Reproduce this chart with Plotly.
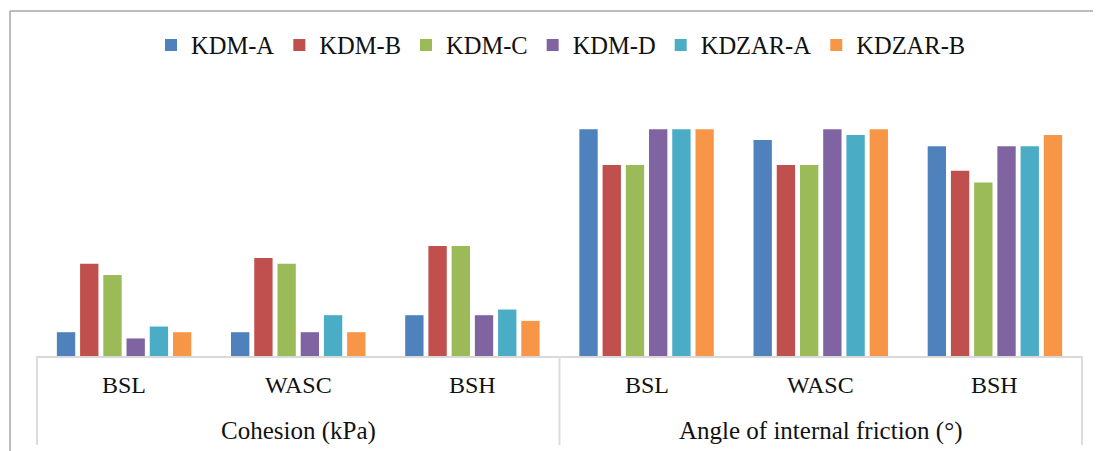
import plotly.graph_objects as go

# ---- data ----
groups = ["Cohesion (kPa)"] * 3 + ["Angle of internal friction (°)"] * 3
soils = ["BSL", "WASC", "BSH", "BSL", "WASC", "BSH"]

series_names = ["KDM-A", "KDM-B", "KDM-C", "KDM-D", "KDZAR-A", "KDZAR-B"]
kdm_a = [4.2, 4.2, 7.2, 40.0, 38.1, 37.0]
kdm_b = [16.3, 17.3, 19.4, 33.7, 33.7, 32.7]
kdm_c = [14.3, 16.3, 19.4, 33.7, 33.7, 30.6]
kdm_d = [3.1, 4.2, 7.2, 40.0, 40.0, 37.0]
kdzar_a = [5.2, 7.2, 8.2, 40.0, 39.0, 37.0]
kdzar_b = [4.2, 4.2, 6.2, 40.0, 40.0, 39.0]
series_values = [kdm_a, kdm_b, kdm_c, kdm_d, kdzar_a, kdzar_b]
colors = ["#4F81BD", "#C0504D", "#9BBB59", "#8064A2", "#4BACC6", "#F79646"]

FONT = "Liberation Serif"
TXT = "#111111"
GRID = "#d9d9d9"

fig = go.Figure()
for name, vals, col in zip(series_names, series_values, colors):
    fig.add_trace(go.Bar(
        name=name,
        x=[groups, soils],
        y=vals,
        marker=dict(color=col, line=dict(width=0)),
    ))

# page offset of the figure inside the browser body
OFF = 8
W, H = 1093, 443
L, R, T, B = 29, 19, 93, 95
pw, ph = W - L - R, H - T - B


def px(x):  # screen x -> paper
    return (x - OFF - L) / pw


def py(y):  # screen y -> paper
    return (H - B - (y - OFF)) / ph


n = len(soils)
annotations = []
# inner category labels
for i, s in enumerate(soils):
    annotations.append(dict(
        xref="paper", yref="paper", x=(i + 0.5) / n, y=py(385),
        text=s, showarrow=False, xanchor="center", yanchor="middle",
        font=dict(family=FONT, size=24, color=TXT)))
# outer group labels and divider positions
outer = []
for i, g in enumerate(groups):
    if not outer or outer[-1][0] != g:
        outer.append([g, i, i])
    else:
        outer[-1][2] = i
shapes = []
for g, i0, i1 in outer:
    annotations.append(dict(
        xref="paper", yref="paper", x=(i0 + i1 + 1) / 2 / n, y=py(431),
        text=g, showarrow=False, xanchor="center", yanchor="middle",
        font=dict(family=FONT, size=25, color=TXT)))
div_x = sorted({i0 / n for _, i0, _ in outer} | {(i1 + 1) / n for _, _, i1 in outer})
for dx in div_x:
    shapes.append(dict(type="line", xref="paper", yref="paper",
                       x0=dx, x1=dx, y0=0, y1=py(445),
                       line=dict(color="#dcdcdc", width=2)))
# outer chart frame (top and left edges visible)
shapes.append(dict(type="line", xref="paper", yref="paper",
                   x0=px(10), x1=px(1130), y0=py(11), y1=py(11),
                   line=dict(color="#a6a6a6", width=1.5)))
shapes.append(dict(type="line", xref="paper", yref="paper",
                   x0=px(10), x1=px(10), y0=py(11), y1=py(480),
                   line=dict(color="#a6a6a6", width=1.5)))

fig.update_layout(
    width=W, height=H,
    margin=dict(l=L, r=R, t=T, b=B, pad=0),
    paper_bgcolor="white", plot_bgcolor="white",
    barmode="group", bargap=0.2, bargroupgap=0.21,
    font=dict(family=FONT, size=24, color=TXT),
    legend=dict(
        orientation="h", x=px(151), xanchor="left", y=py(45), yanchor="middle",
        font=dict(family=FONT, size=24.5, color=TXT),
        bgcolor="rgba(0,0,0,0)", itemclick=False,
    ),
    xaxis=dict(
        type="multicategory",
        showline=True, linecolor=GRID, linewidth=2,
        showgrid=False, zeroline=False, showticklabels=False, ticks="",
    ),
    yaxis=dict(range=[0, 45], visible=False, showgrid=False, zeroline=False),
    annotations=annotations,
    shapes=shapes,
)

fig.write_html("out.html")
